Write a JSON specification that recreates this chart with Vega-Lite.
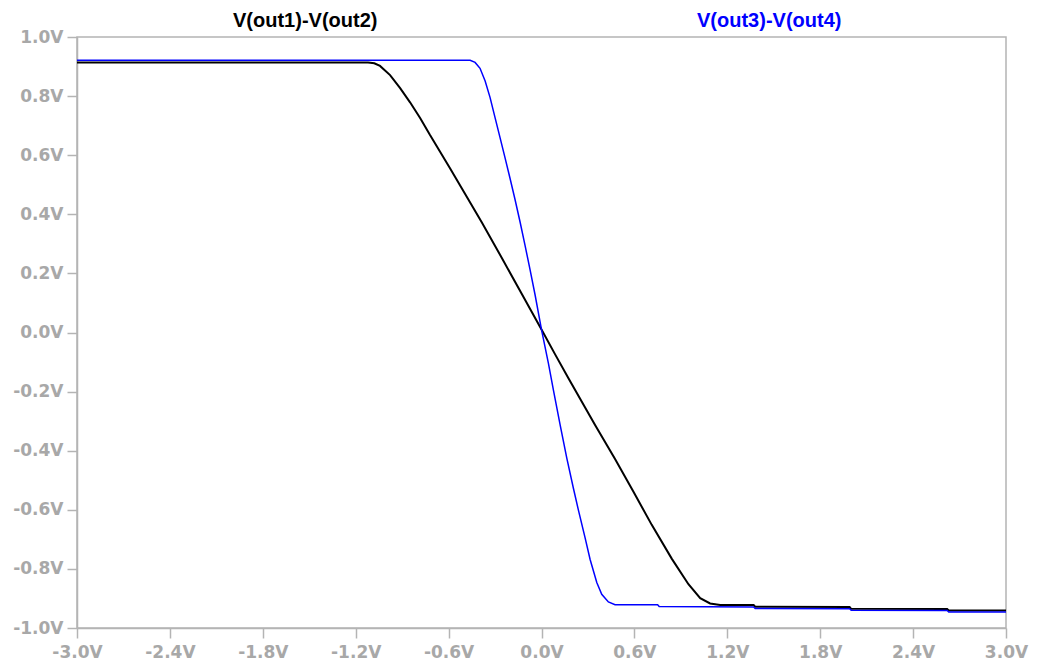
{
  "$schema": "https://vega.github.io/schema/vega-lite/v6.json",
  "width": 929,
  "height": 591,
  "autosize": {"type": "none"},
  "padding": {"left": 77, "top": 37, "right": 31, "bottom": 43},
  "background": "white",
  "config": {"view": {"stroke": "#b4b4b4", "strokeWidth": 1.5}, "font": "DejaVu Sans"},
  "data": {"values": [
    {"s": "V(out1)-V(out2)", "v": -3.0, "y": 0.914},
    {"s": "V(out1)-V(out2)", "v": -1.12, "y": 0.914},
    {"s": "V(out1)-V(out2)", "v": -1.08, "y": 0.911},
    {"s": "V(out1)-V(out2)", "v": -1.043, "y": 0.902},
    {"s": "V(out1)-V(out2)", "v": -0.978, "y": 0.871},
    {"s": "V(out1)-V(out2)", "v": -0.913, "y": 0.827},
    {"s": "V(out1)-V(out2)", "v": -0.849, "y": 0.779},
    {"s": "V(out1)-V(out2)", "v": -0.784, "y": 0.726},
    {"s": "V(out1)-V(out2)", "v": -0.72, "y": 0.668},
    {"s": "V(out1)-V(out2)", "v": -0.655, "y": 0.612},
    {"s": "V(out1)-V(out2)", "v": -0.59, "y": 0.555},
    {"s": "V(out1)-V(out2)", "v": -0.515, "y": 0.488},
    {"s": "V(out1)-V(out2)", "v": -0.386, "y": 0.373},
    {"s": "V(out1)-V(out2)", "v": -0.257, "y": 0.253},
    {"s": "V(out1)-V(out2)", "v": -0.127, "y": 0.13},
    {"s": "V(out1)-V(out2)", "v": 0.0, "y": 0.01},
    {"s": "V(out1)-V(out2)", "v": 0.088, "y": -0.074},
    {"s": "V(out1)-V(out2)", "v": 0.174, "y": -0.155},
    {"s": "V(out1)-V(out2)", "v": 0.346, "y": -0.313},
    {"s": "V(out1)-V(out2)", "v": 0.475, "y": -0.428},
    {"s": "V(out1)-V(out2)", "v": 0.594, "y": -0.539},
    {"s": "V(out1)-V(out2)", "v": 0.712, "y": -0.651},
    {"s": "V(out1)-V(out2)", "v": 0.842, "y": -0.766},
    {"s": "V(out1)-V(out2)", "v": 0.949, "y": -0.852},
    {"s": "V(out1)-V(out2)", "v": 1.025, "y": -0.899},
    {"s": "V(out1)-V(out2)", "v": 1.089, "y": -0.917},
    {"s": "V(out1)-V(out2)", "v": 1.154, "y": -0.922},
    {"s": "V(out1)-V(out2)", "v": 1.37, "y": -0.922},
    {"s": "V(out1)-V(out2)", "v": 1.38, "y": -0.928},
    {"s": "V(out1)-V(out2)", "v": 1.99, "y": -0.929},
    {"s": "V(out1)-V(out2)", "v": 2.0, "y": -0.935},
    {"s": "V(out1)-V(out2)", "v": 2.62, "y": -0.936},
    {"s": "V(out1)-V(out2)", "v": 2.63, "y": -0.941},
    {"s": "V(out1)-V(out2)", "v": 3.0, "y": -0.941},
    {"s": "V(out3)-V(out4)", "v": -3.0, "y": 0.921},
    {"s": "V(out3)-V(out4)", "v": -0.461, "y": 0.921},
    {"s": "V(out3)-V(out4)", "v": -0.429, "y": 0.914},
    {"s": "V(out3)-V(out4)", "v": -0.397, "y": 0.894},
    {"s": "V(out3)-V(out4)", "v": -0.364, "y": 0.851},
    {"s": "V(out3)-V(out4)", "v": -0.332, "y": 0.795},
    {"s": "V(out3)-V(out4)", "v": -0.3, "y": 0.727},
    {"s": "V(out3)-V(out4)", "v": -0.267, "y": 0.658},
    {"s": "V(out3)-V(out4)", "v": -0.235, "y": 0.59},
    {"s": "V(out3)-V(out4)", "v": -0.203, "y": 0.521},
    {"s": "V(out3)-V(out4)", "v": -0.171, "y": 0.45},
    {"s": "V(out3)-V(out4)", "v": -0.138, "y": 0.373},
    {"s": "V(out3)-V(out4)", "v": -0.106, "y": 0.294},
    {"s": "V(out3)-V(out4)", "v": -0.074, "y": 0.213},
    {"s": "V(out3)-V(out4)", "v": -0.041, "y": 0.126},
    {"s": "V(out3)-V(out4)", "v": 0.0, "y": 0.01},
    {"s": "V(out3)-V(out4)", "v": 0.045, "y": -0.105},
    {"s": "V(out3)-V(out4)", "v": 0.077, "y": -0.195},
    {"s": "V(out3)-V(out4)", "v": 0.12, "y": -0.312},
    {"s": "V(out3)-V(out4)", "v": 0.163, "y": -0.424},
    {"s": "V(out3)-V(out4)", "v": 0.206, "y": -0.527},
    {"s": "V(out3)-V(out4)", "v": 0.238, "y": -0.6},
    {"s": "V(out3)-V(out4)", "v": 0.282, "y": -0.696},
    {"s": "V(out3)-V(out4)", "v": 0.314, "y": -0.768},
    {"s": "V(out3)-V(out4)", "v": 0.357, "y": -0.846},
    {"s": "V(out3)-V(out4)", "v": 0.389, "y": -0.886},
    {"s": "V(out3)-V(out4)", "v": 0.432, "y": -0.912},
    {"s": "V(out3)-V(out4)", "v": 0.475, "y": -0.921},
    {"s": "V(out3)-V(out4)", "v": 0.75, "y": -0.921},
    {"s": "V(out3)-V(out4)", "v": 0.76, "y": -0.927},
    {"s": "V(out3)-V(out4)", "v": 1.37, "y": -0.929},
    {"s": "V(out3)-V(out4)", "v": 1.38, "y": -0.934},
    {"s": "V(out3)-V(out4)", "v": 1.99, "y": -0.935},
    {"s": "V(out3)-V(out4)", "v": 2.0, "y": -0.94},
    {"s": "V(out3)-V(out4)", "v": 2.62, "y": -0.941},
    {"s": "V(out3)-V(out4)", "v": 2.63, "y": -0.946},
    {"s": "V(out3)-V(out4)", "v": 3.0, "y": -0.946}
  ]},
  "mark": {"type": "line", "clip": true},
  "encoding": {
    "x": {
      "field": "v", "type": "quantitative",
      "scale": {"domain": [-3, 3], "nice": false, "zero": false},
      "axis": {
        "values": [-3, -2.4, -1.8, -1.2, -0.6, 0, 0.6, 1.2, 1.8, 2.4, 3],
        "labelExpr": "(datum.value < -0.001 ? '-' : '') + format(abs(datum.value), '.1f') + 'V'",
        "title": null, "grid": false,
        "domainColor": "#b4b4b4", "domainWidth": 1.5,
        "tickColor": "#b4b4b4", "tickWidth": 1.5, "tickSize": 10,
        "labelColor": "#a8a8a8", "labelFontSize": 17, "labelFontWeight": "bold", "labelFont": "DejaVu Sans",
        "labelPadding": 6, "labelFlush": false, "labelOverlap": false
      }
    },
    "y": {
      "field": "y", "type": "quantitative",
      "scale": {"domain": [-1, 1], "nice": false, "zero": false},
      "axis": {
        "values": [-1, -0.8, -0.6, -0.4, -0.2, 0, 0.2, 0.4, 0.6, 0.8, 1],
        "labelExpr": "(datum.value < -0.001 ? '-' : '') + format(abs(datum.value), '.1f') + 'V'",
        "title": null, "grid": false,
        "domainColor": "#b4b4b4", "domainWidth": 1.5,
        "tickColor": "#b4b4b4", "tickWidth": 1.5, "tickSize": 10,
        "labelColor": "#a8a8a8", "labelFontSize": 17, "labelFontWeight": "bold", "labelFont": "DejaVu Sans",
        "labelPadding": 4, "labelFlush": false, "labelOverlap": false
      }
    },
    "color": {
      "field": "s", "type": "nominal",
      "scale": {"domain": ["V(out1)-V(out2)", "V(out3)-V(out4)"], "range": ["#000000", "#0000ff"]},
      "legend": {
        "orient": "none", "legendX": 136, "legendY": -26, "direction": "horizontal",
        "title": null, "symbolSize": 0, "symbolOpacity": 0, "symbolStrokeWidth": 0,
        "labelOffset": 0, "labelFontSize": 20, "labelFont": "Liberation Sans", "labelFontWeight": "bold",
        "columnPadding": 299, "padding": 0, "labelLimit": 400,
        "encode": {"labels": {"update": {"fill": {"scale": "color", "field": "value"}}}}
      }
    },
    "strokeWidth": {
      "field": "s", "type": "nominal",
      "scale": {"domain": ["V(out1)-V(out2)", "V(out3)-V(out4)"], "range": [2, 1.5]},
      "legend": null
    }
  }
}
